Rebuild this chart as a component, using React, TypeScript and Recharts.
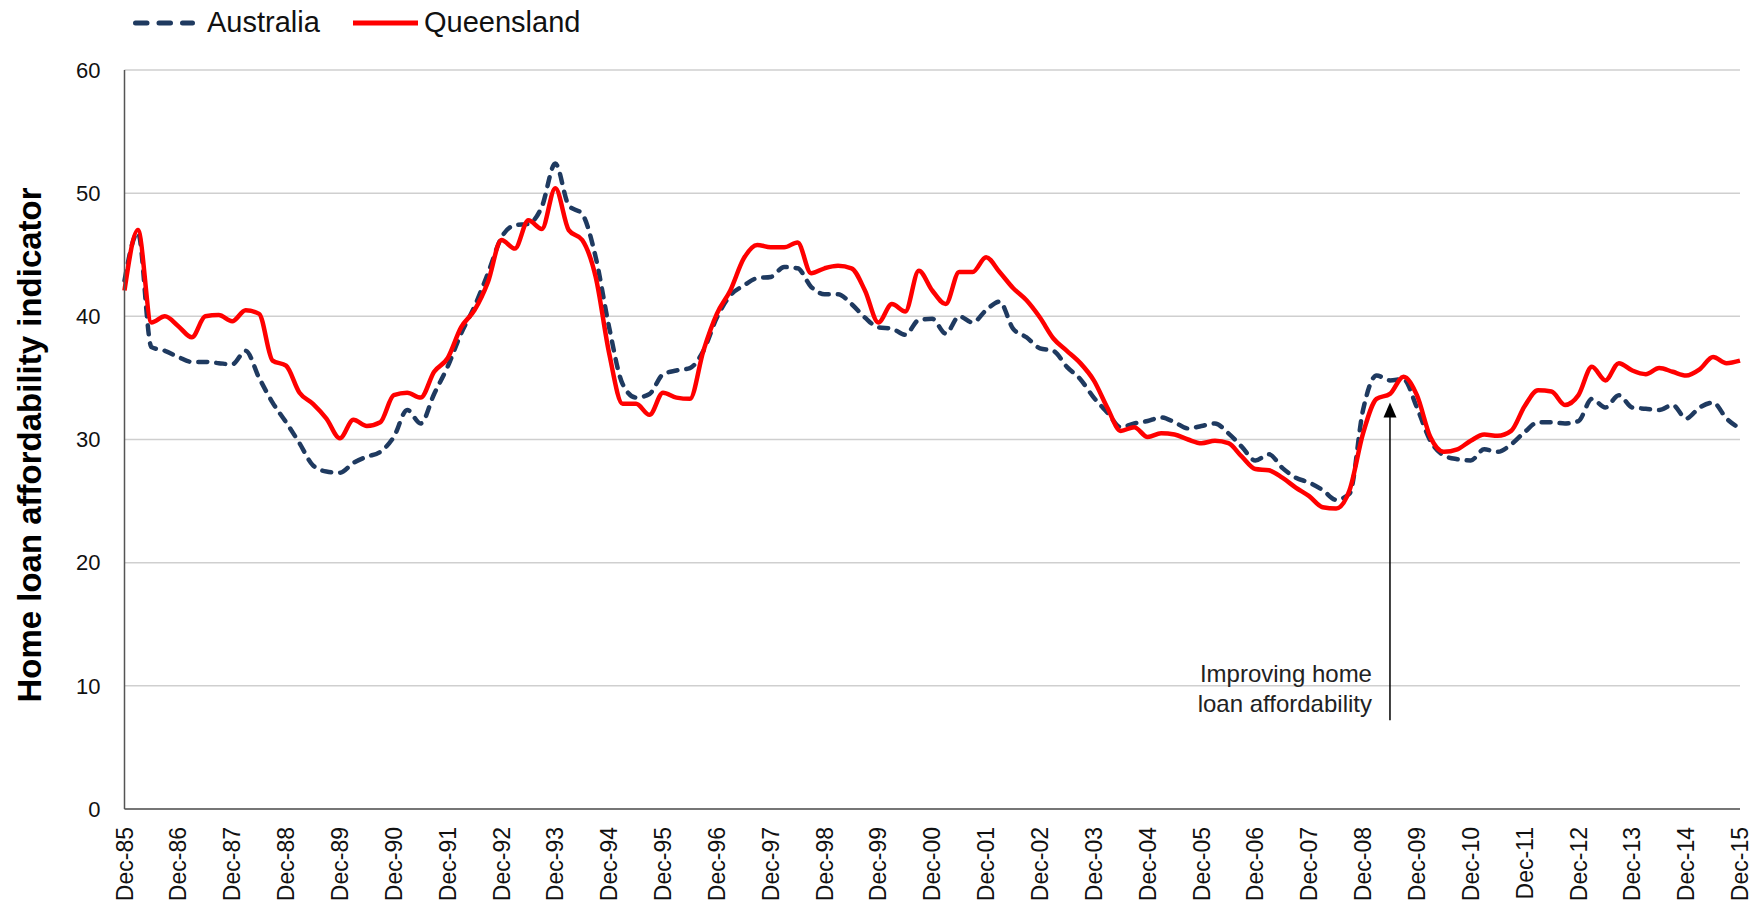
import { LineChart, Line, XAxis, YAxis, CartesianGrid, ReferenceLine, ReferenceDot } from 'recharts';

// year suffixes Dec-85 .. Dec-15, quarterly points
const YEARS = ['85', '86', '87', '88', '89', '90', '91', '92', '93', '94', '95', '96', '97', '98', '99', '00',
  '01', '02', '03', '04', '05', '06', '07', '08', '09', '10', '11', '12', '13', '14', '15'];
const MONTHS = ['Mar', 'Jun', 'Sep', 'Dec'];

const QUARTERS: string[] = ['Dec-' + YEARS[0]];
for (let y = 1; y < YEARS.length; y++) {
  for (const m of MONTHS) QUARTERS.push(`${m}-${YEARS[y]}`);
}

const AUSTRALIA = [
  42.9, 46.8, 37.5, 37.2, 36.7, 36.3, 36.3, 36.2, 36.1, 37.2,
  35.0, 33.0, 31.4, 29.7, 27.9, 27.4, 27.3, 28.1, 28.6, 29.0,
  30.2, 32.4, 31.3, 33.7, 35.9, 38.6, 40.8, 43.5, 46.4, 47.4,
  47.5, 48.9, 52.4, 49.0, 48.3, 44.8, 39.1, 34.5, 33.4, 33.7,
  35.3, 35.6, 35.8, 37.2, 39.9, 41.7, 42.5, 43.1, 43.2, 44.0,
  43.9, 42.4, 41.8, 41.8, 41.0, 39.9, 39.1, 39.0, 38.5, 39.7,
  39.8, 38.6, 40.0, 39.5, 40.5, 41.2, 39.0, 38.3, 37.4, 37.2,
  35.9, 34.9, 33.4, 32.2, 31.0, 31.3, 31.5, 31.8, 31.4, 30.9,
  31.1, 31.3, 30.5, 29.4, 28.3, 28.8, 27.7, 26.9, 26.5, 25.9,
  25.1, 25.6, 32.4, 35.2, 34.8, 34.9, 32.6, 29.9, 28.7, 28.4,
  28.3, 29.2, 29.0, 29.6, 30.6, 31.4, 31.4, 31.3, 31.5, 33.3,
  32.6, 33.6, 32.6, 32.5, 32.4, 32.8, 31.7, 32.6, 33.0, 31.7,
  30.9,
];

const QUEENSLAND = [
  42.1, 47.0, 39.5, 40.0, 39.2, 38.3, 40.0, 40.1, 39.6, 40.5,
  40.2, 36.4, 36.0, 33.8, 32.9, 31.7, 30.1, 31.6, 31.1, 31.4,
  33.6, 33.8, 33.4, 35.5, 36.6, 39.1, 40.5, 42.8, 46.2, 45.5,
  47.8, 47.1, 50.4, 47.0, 46.2, 43.2, 37.0, 32.9, 32.9, 32.0,
  33.8, 33.4, 33.3, 37.2, 40.2, 42.1, 44.7, 45.8, 45.6, 45.6,
  46.0, 43.5, 43.9, 44.1, 43.9, 42.1, 39.5, 41.0, 40.4, 43.7,
  42.1, 41.0, 43.6, 43.6, 44.8, 43.6, 42.3, 41.3, 39.9, 38.2,
  37.2, 36.2, 34.8, 32.6, 30.7, 31.0, 30.2, 30.5, 30.4, 30.0,
  29.7, 29.9, 29.7, 28.6, 27.6, 27.5, 26.9, 26.1, 25.4, 24.5,
  24.4, 25.9, 30.5, 33.3, 33.7, 35.1, 33.6, 30.2, 29.0, 29.2,
  29.9, 30.4, 30.3, 30.7, 32.7, 34.0, 33.9, 32.8, 33.6, 35.9,
  34.8, 36.2, 35.6, 35.3, 35.8, 35.5, 35.2, 35.7, 36.7, 36.2,
  36.4,
];

const Y_TICKS = [0, 10, 20, 30, 40, 50, 60];

// annotation
const ARROW_AT = 'Jun-09';
const ARROW_FROM = 7.2;
const ARROW_TO = 33.0;
const NOTE_AT = 10.3;
const NOTE_LINES = ['Improving home', 'loan affordability'];

const data = QUARTERS.map((q, i) => ({ quarter: q, australia: AUSTRALIA[i], queensland: QUEENSLAND[i] }));

const FONT = "'Liberation Sans', Arial, sans-serif";
const NAVY = '#1f3a60';
const RED = '#ff0000';

const XTick = ({ x, y, payload }: any) => (
  <text
    transform={`translate(${x},${y}) rotate(-90)`}
    textAnchor="end"
    dy="0.35em"
    fontSize={23}
    fontFamily={FONT}
    fill="#111"
  >
    {payload.value}
  </text>
);

const YTitle = () => (
  <text
    transform="translate(41,445) rotate(-90)"
    textAnchor="middle"
    fontSize={33}
    fontWeight="bold"
    fontFamily={FONT}
    fill="#000"
  >
    Home loan affordability indicator
  </text>
);

const ArrowHead = ({ cx, cy }: any) => (
  <polygon points={`${cx},${cy} ${cx - 6.5},${cy + 15} ${cx + 6.5},${cy + 15}`} fill="#000" />
);

const Note = ({ cx, cy }: any) => (
  <text x={cx - 18} y={cy} textAnchor="end" fontSize={24} fontFamily={FONT} fill="#222">
    {NOTE_LINES.map((t, i) => (
      <tspan key={t} x={cx - 18} dy={i === 0 ? 0 : 30}>{t}</tspan>
    ))}
  </text>
);

const Legend = () => (
  <div style={{ position: 'absolute', left: 0, top: 0, width: 700, height: 50, fontFamily: FONT, fontSize: 29, color: '#111' }}>
    <svg width={700} height={50} style={{ position: 'absolute', left: 0, top: 0 }}>
      <line x1={135.5} y1={23} x2={192.5} y2={23} stroke={NAVY} strokeWidth={5} strokeDasharray="11.5 12" strokeLinecap="round" />
      <line x1={353} y1={23} x2={418} y2={23} stroke={RED} strokeWidth={5} />
    </svg>
    <span style={{ position: 'absolute', left: 207, top: 5, lineHeight: '34px' }}>Australia</span>
    <span style={{ position: 'absolute', left: 424, top: 5, lineHeight: '34px' }}>Queensland</span>
  </div>
);

export default function App() {
  return (
    <div style={{ position: 'absolute', left: 0, top: 0, width: 1763, height: 910, background: '#fff' }}>
      <Legend />
      <LineChart
        width={1763}
        height={910}
        data={data}
        margin={{ top: 70, right: 23, bottom: 11, left: 64.5 }}
      >
        <CartesianGrid vertical={false} stroke="#cfcfcf" strokeWidth={1.5} />
        <XAxis
          dataKey="quarter"
          interval={3}
          height={90}
          tickLine={false}
          tickSize={0}
          tickMargin={18}
          axisLine={{ stroke: '#555', strokeWidth: 1.5 }}
          tick={<XTick />}
        />
        <YAxis
          width={60}
          domain={[0, 60]}
          ticks={Y_TICKS}
          tickLine={false}
          tickSize={0}
          tickMargin={24}
          axisLine={{ stroke: '#555', strokeWidth: 1.5 }}
          tick={{ fontSize: 22, fontFamily: FONT, fill: '#111' }}
          label={<YTitle />}
        />
        <ReferenceLine
          segment={[{ x: ARROW_AT, y: ARROW_FROM }, { x: ARROW_AT, y: ARROW_TO - 1 }]}
          stroke="#000"
          strokeWidth={1.5}
        />
        <ReferenceDot x={ARROW_AT} y={ARROW_TO} r={0} shape={<ArrowHead />} />
        <ReferenceDot x={ARROW_AT} y={NOTE_AT} r={0} shape={<Note />} />
        <Line
          type="monotone"
          dataKey="australia"
          name="Australia"
          stroke={NAVY}
          strokeWidth={4.5}
          strokeDasharray="9 9"
          strokeLinecap="round"
          dot={false}
          isAnimationActive={false}
        />
        <Line
          type="monotone"
          dataKey="queensland"
          name="Queensland"
          stroke={RED}
          strokeWidth={4.5}
          dot={false}
          isAnimationActive={false}
        />
      </LineChart>
    </div>
  );
}
